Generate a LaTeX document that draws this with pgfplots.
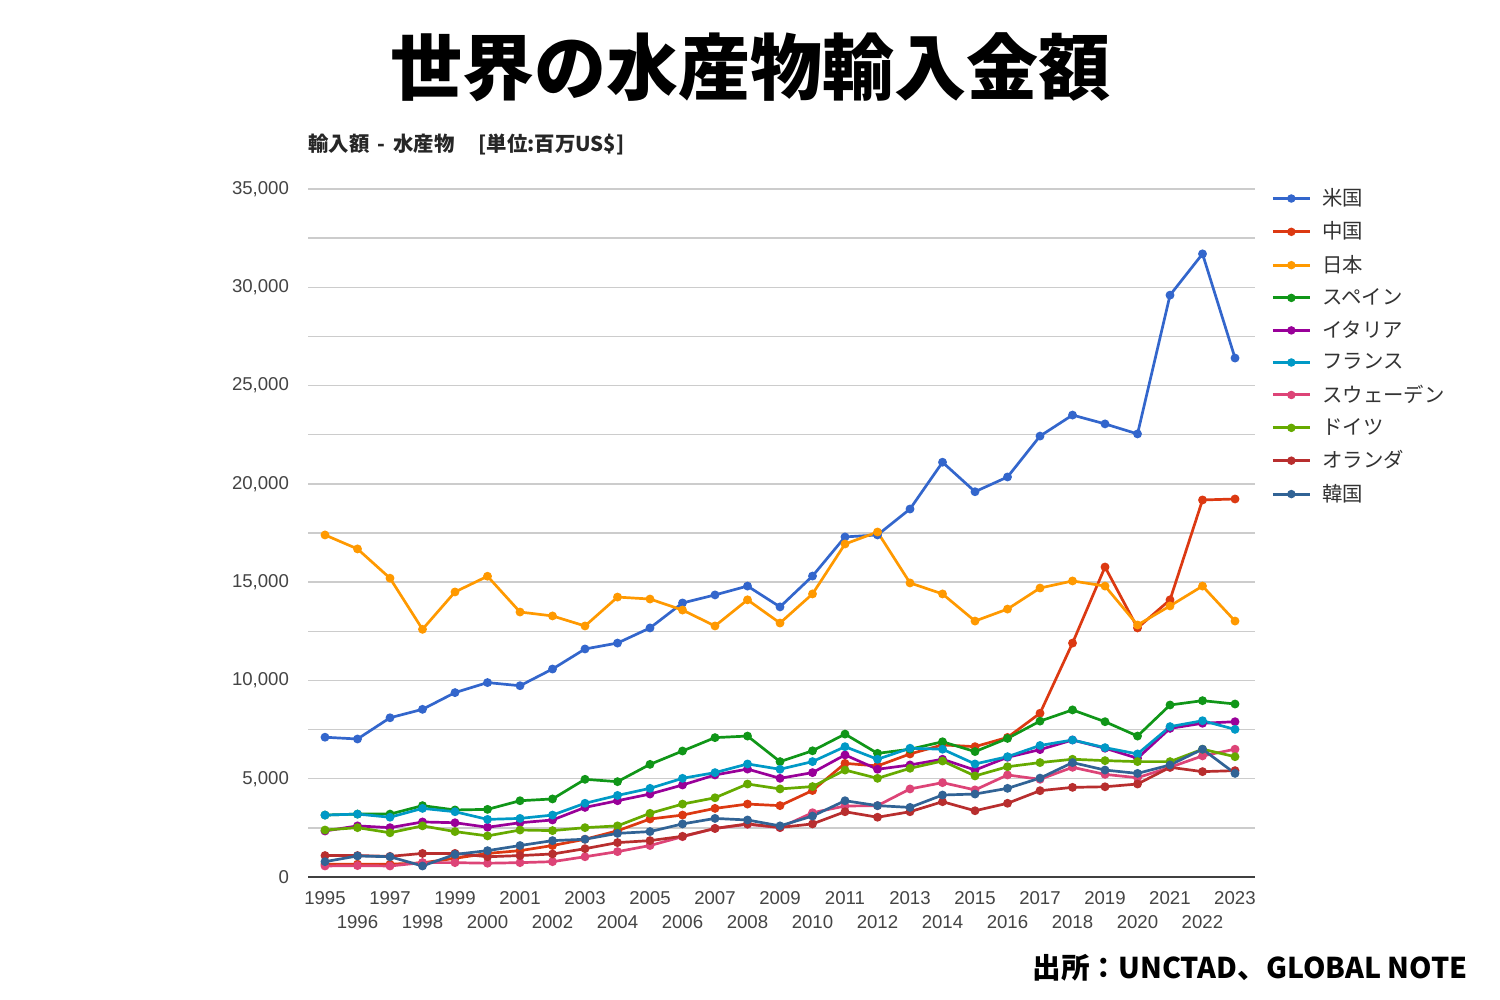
\documentclass[border=0pt]{standalone}
\usepackage{fontspec}
\setmainfont{Liberation Sans}
\newfontfamily\jp{Noto Sans CJK JP}
\usepackage{pgfplots}
\pgfplotsset{compat=1.18}
\usepackage{pgfplotstable}
\definecolor{cUS}{HTML}{3366CC}
\definecolor{cCN}{HTML}{DC3912}
\definecolor{cJP}{HTML}{FF9900}
\definecolor{cES}{HTML}{109618}
\definecolor{cIT}{HTML}{990099}
\definecolor{cFR}{HTML}{0099C6}
\definecolor{cSE}{HTML}{DD4477}
\definecolor{cDE}{HTML}{66AA00}
\definecolor{cNL}{HTML}{B82E2E}
\definecolor{cKR}{HTML}{316395}
\definecolor{tickgray}{HTML}{444444}
\definecolor{gridgray}{HTML}{CCCCCC}

\pgfplotstableread{
year US CN JP ES IT FR SE DE NL KR
1995 7110 650 17400 3150 2340 3150 560 2390 1090 780
1996 7020 650 16690 3200 2600 3200 580 2510 1090 1070
1997 8100 650 15200 3200 2510 3040 560 2250 1050 1030
1998 8530 720 12600 3630 2800 3490 730 2600 1200 560
1999 9380 950 14500 3410 2760 3320 730 2310 1200 1150
2000 9890 1200 15300 3440 2530 2930 700 2090 1030 1340
2001 9730 1340 13480 3880 2760 2980 730 2390 1090 1600
2002 10580 1600 13280 3970 2900 3150 780 2360 1170 1850
2003 11600 1920 12770 4970 3540 3750 1030 2510 1440 1920
2004 11900 2350 14240 4850 3880 4150 1290 2600 1750 2220
2005 12670 2950 14140 5730 4220 4510 1600 3240 1850 2310
2006 13940 3150 13580 6410 4680 5020 2050 3710 2070 2700
2007 14350 3490 12770 7090 5190 5310 2470 4030 2470 2980
2008 14800 3710 14100 7170 5490 5750 2680 4730 2700 2900
2009 13740 3630 12920 5870 5020 5480 2510 4480 2520 2600
2010 15310 4400 14400 6420 5310 5870 3270 4600 2700 3100
2011 17300 5780 16940 7270 6210 6630 3610 5440 3320 3880
2012 17400 5650 17550 6290 5480 5990 3630 5020 3040 3630
2013 18720 6260 14960 6500 5700 6550 4480 5530 3320 3540
2014 21100 6720 14400 6880 5990 6500 4800 5900 3830 4170
2015 19600 6630 13020 6380 5440 5750 4430 5140 3370 4220
2016 20350 7100 13630 7050 6090 6120 5190 5610 3750 4510
2017 22430 8330 14700 7930 6480 6690 4970 5820 4390 5030
2018 23500 11900 15060 8500 6970 6970 5580 5990 4560 5820
2019 23050 15770 14800 7900 6550 6580 5220 5920 4590 5440
2020 22540 12670 12820 7170 6040 6260 5050 5870 4730 5270
2021 29600 14100 13790 8750 7560 7650 5580 5870 5580 5700
2022 31700 19180 14800 8970 7820 7950 6160 6500 5360 6500
2023 26400 19230 13020 8800 7900 7510 6500 6120 5410 5270
}\datatable

\begin{document}
\begin{tikzpicture}
\path[use as bounding box, fill=white] (0,0) rectangle (750pt,500pt);
\node[font=\jp\bfseries\fontsize{36}{40}\selectfont] at (375pt,466.5pt) {世界の水産物輸入金額};
\node[anchor=west, inner sep=0pt, font=\jp\bfseries\fontsize{10.2}{12}\selectfont, text=black!85] at (154pt,427.5pt) {輸入額\hspace{4pt}-\hspace{4pt}水産物\hspace{12pt}[単位:百万US\$]};
\node[anchor=east, inner sep=0pt, font=\jp\bfseries\fontsize{14.3}{16}\selectfont] at (734pt,16pt) {出所：UNCTAD、GLOBAL NOTE};
\begin{axis}[
  at={(154pt,61.5pt)}, anchor=south west,
  scale only axis, width=473.5pt, height=344pt,
  xmin=1994.477, xmax=2023.615, ymin=0, ymax=35000,
  axis line style={draw=none},
  tick style={draw=none},
  xtick={1995,...,2023},
  xticklabels={\strut 1995,{\strut\\\strut 1996},\strut 1997,{\strut\\\strut 1998},\strut 1999,{\strut\\\strut 2000},\strut 2001,{\strut\\\strut 2002},\strut 2003,{\strut\\\strut 2004},\strut 2005,{\strut\\\strut 2006},\strut 2007,{\strut\\\strut 2008},\strut 2009,{\strut\\\strut 2010},\strut 2011,{\strut\\\strut 2012},\strut 2013,{\strut\\\strut 2014},\strut 2015,{\strut\\\strut 2016},\strut 2017,{\strut\\\strut 2018},\strut 2019,{\strut\\\strut 2020},\strut 2021,{\strut\\\strut 2022},\strut 2023},
  xticklabel style={align=center, anchor=north, font=\fontsize{9.3}{12}\selectfont, text=tickgray, yshift=-2pt},
  ytick={0,5000,...,35000},
  minor y tick num=1,
  ymajorgrids, yminorgrids,
  major grid style={draw=gridgray, line width=0.7pt},
  minor grid style={draw=gridgray, line width=0.7pt},
  yticklabel style={font=\fontsize{9.3}{11}\selectfont, text=tickgray, xshift=-6pt},
  /pgf/number format/assume math mode=true,
  /pgf/number format/1000 sep={,},
  scaled y ticks=false,
  every axis plot/.append style={line width=1.35pt, mark=*, mark size=1.5pt},
  legend image code/.code={\draw[line width=1.5pt] (0pt,0pt) -- (18.5pt,0pt); \fill (9.25pt,0pt) circle[radius=1.4pt];},
  legend style={at={(1.0105,1.013)}, anchor=north west, draw=none, fill=none,
    font=\jp\fontsize{10.2}{12}\selectfont, text=black!80, row sep=2.6pt,
    /tikz/every odd column/.append style={column sep=3.5pt}},
  legend cell align=left,
  clip=false,
]
\draw[black!75, line width=1.4pt] (rel axis cs:0,0) -- (rel axis cs:1,0);
\addplot[color=cUS] table[x=year,y=US] {\datatable};
\addplot[color=cCN] table[x=year,y=CN] {\datatable};
\addplot[color=cJP] table[x=year,y=JP] {\datatable};
\addplot[color=cES] table[x=year,y=ES] {\datatable};
\addplot[color=cIT] table[x=year,y=IT] {\datatable};
\addplot[color=cFR] table[x=year,y=FR] {\datatable};
\addplot[color=cSE] table[x=year,y=SE] {\datatable};
\addplot[color=cDE] table[x=year,y=DE] {\datatable};
\addplot[color=cNL] table[x=year,y=NL] {\datatable};
\addplot[color=cKR] table[x=year,y=KR] {\datatable};
\legend{米国,中国,日本,スペイン,イタリア,フランス,スウェーデン,ドイツ,オランダ,韓国}
\end{axis}
\end{tikzpicture}
\end{document}
